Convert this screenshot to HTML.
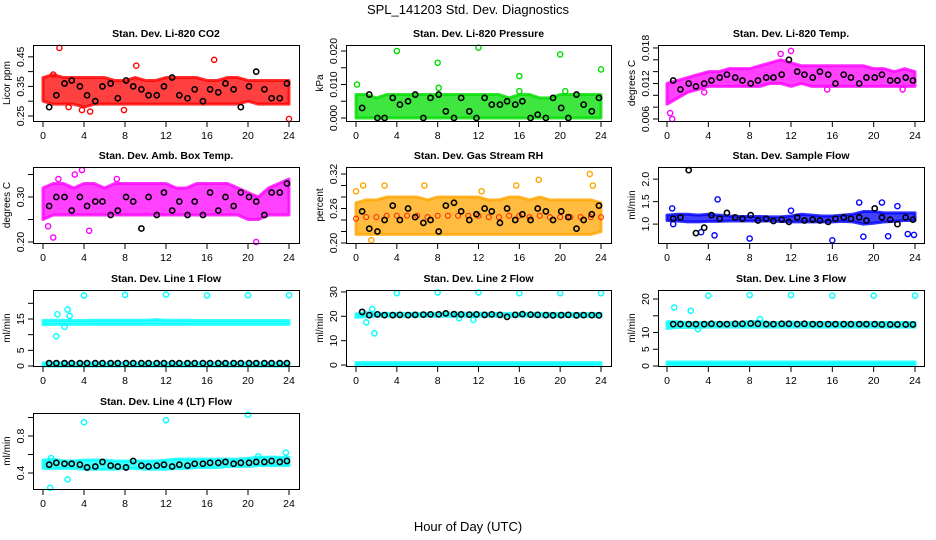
<!DOCTYPE html>
<html><head><meta charset="utf-8"><style>
body{margin:0;background:#fff}
svg{display:block;font-family:"Liberation Sans",sans-serif}
</style></head><body>
<svg id="c" width="936" height="540" xmlns="http://www.w3.org/2000/svg">
<text x="468" y="14" text-anchor="middle" font-size="13">SPL_141203  Std. Dev. Diagnostics</text>
<text x="468" y="531" text-anchor="middle" font-size="13">Hour of Day (UTC)</text>
</svg>
<script>
const hours=[0,1,2,3,4,5,6,7,8,9,10,11,12,13,14,15,16,17,18,19,20,21,22,23,24];
const blackHours=[0.6,1.3,2.1,2.8,3.6,4.3,5.1,5.8,6.6,7.3,8.1,8.8,9.6,10.3,11.1,11.8,12.6,13.3,14.1,14.8,15.6,16.3,17.1,17.8,18.6,19.3,20.1,20.8,21.6,22.3,23.1,23.8];

const co2Lo=[0.30,0.29,0.29,0.29,0.28,0.29,0.29,0.29,0.29,0.29,0.29,0.29,0.29,0.29,0.29,0.29,0.29,0.29,0.29,0.29,0.30,0.29,0.29,0.29,0.29];
const co2Hi=[0.38,0.39,0.38,0.38,0.38,0.38,0.38,0.37,0.37,0.38,0.37,0.37,0.38,0.38,0.38,0.38,0.37,0.37,0.38,0.38,0.37,0.37,0.37,0.37,0.37];
const co2OutX=[1.6,9.1,16.7,3.8,4.6,7.9,24,1.0,2.5];
const co2OutY=[0.48,0.42,0.44,0.27,0.265,0.27,0.24,0.39,0.28];
const co2Black=[0.28,0.32,0.36,0.37,0.35,0.32,0.30,0.35,0.36,0.31,0.37,0.35,0.34,0.32,0.32,0.35,0.38,0.32,0.31,0.34,0.30,0.34,0.33,0.36,0.34,0.28,0.35,0.40,0.34,0.31,0.31,0.36];

const presLo=[0,0,0,0,0,0,0,0,0,0,0,0,0,0,0,0,0,0,0,0,0,0,0,0,0];
const presHi=[0.007,0.007,0.006,0.007,0.007,0.007,0.007,0.007,0.007,0.007,0.007,0.007,0.007,0.007,0.007,0.006,0.007,0.007,0.006,0.006,0.007,0.007,0.007,0.007,0.007];
const presOutX=[0.1,4.0,8.0,8.1,12.0,16.0,16.0,20.0,24,20.5];
const presOutY=[0.010,0.020,0.0165,0.009,0.021,0.0125,0.008,0.019,0.0145,0.008];
const presBlack=[0.003,0.007,0,0,0.006,0.004,0.005,0.007,0,0.006,0.007,0.002,0,0.006,0.002,0,0.006,0.004,0.004,0.005,0.004,0.005,0,0.001,0,0.006,0.003,0,0.007,0.004,0.002,0.006];

const tempLo=[0.0085,0.0095,0.0105,0.011,0.0115,0.0115,0.0115,0.0115,0.0115,0.0115,0.012,0.012,0.0115,0.012,0.0115,0.0115,0.0115,0.0115,0.0115,0.0115,0.0115,0.0115,0.0115,0.0115,0.0115];
const tempHi=[0.012,0.0125,0.013,0.0135,0.014,0.014,0.0145,0.0145,0.0145,0.015,0.0155,0.016,0.0155,0.015,0.015,0.015,0.015,0.015,0.015,0.015,0.0145,0.0145,0.014,0.0145,0.014];
const tempOutX=[0.3,0.5,12,11,3.6,15.5,22.8];
const tempOutY=[0.007,0.006,0.0175,0.017,0.0105,0.011,0.011];
const tempBlack=[0.0125,0.0110,0.0120,0.0115,0.0120,0.0125,0.0130,0.0135,0.0130,0.0125,0.0120,0.0125,0.0130,0.0130,0.0135,0.0160,0.0140,0.0135,0.0130,0.0140,0.0135,0.0120,0.0135,0.0130,0.0120,0.0130,0.0130,0.0135,0.0125,0.0125,0.0130,0.0125];

const ambLo=[0.25,0.26,0.26,0.26,0.26,0.26,0.26,0.26,0.26,0.26,0.26,0.26,0.26,0.26,0.26,0.26,0.26,0.26,0.26,0.26,0.25,0.25,0.26,0.26,0.26];
const ambHi=[0.32,0.33,0.33,0.32,0.33,0.33,0.32,0.33,0.33,0.33,0.33,0.33,0.33,0.32,0.32,0.33,0.33,0.33,0.33,0.32,0.31,0.30,0.32,0.33,0.34];
const ambOutX=[1.0,3.1,3.8,20.8,4.5,7.2,0.5,1.5];
const ambOutY=[0.21,0.35,0.36,0.20,0.225,0.34,0.235,0.34];
const ambBlack=[0.28,0.30,0.30,0.27,0.30,0.28,0.29,0.29,0.26,0.27,0.30,0.29,0.23,0.30,0.26,0.31,0.27,0.29,0.26,0.29,0.26,0.31,0.27,0.30,0.28,0.31,0.30,0.29,0.26,0.31,0.31,0.33];

const rhLo=[0.215,0.215,0.215,0.215,0.215,0.215,0.215,0.215,0.215,0.215,0.215,0.215,0.215,0.215,0.215,0.215,0.215,0.215,0.215,0.215,0.215,0.215,0.215,0.215,0.22];
const rhHi=[0.27,0.275,0.275,0.28,0.28,0.28,0.28,0.275,0.28,0.28,0.28,0.28,0.28,0.275,0.275,0.28,0.28,0.275,0.28,0.275,0.275,0.275,0.275,0.275,0.27];
const rhOutX=[0.0,0.7,2.8,6.7,15.7,17.9,22.9,12.3,1.5,23.2];
const rhOutY=[0.29,0.30,0.30,0.30,0.30,0.31,0.32,0.29,0.205,0.30];
const rhBlack=[0.255,0.225,0.22,0.24,0.265,0.24,0.26,0.245,0.235,0.24,0.22,0.265,0.27,0.255,0.24,0.25,0.26,0.255,0.235,0.26,0.24,0.25,0.24,0.26,0.255,0.24,0.255,0.245,0.225,0.24,0.25,0.265];

const flowLo=[1.08,1.07,1.05,1.05,1.06,1.06,1.07,1.07,1.07,1.07,1.07,1.06,1.05,1.05,1.05,1.05,1.05,1.06,1.05,1.0,1.02,1.05,1.06,1.08,1.08];
const flowHi=[1.2,1.22,1.22,1.2,1.22,1.2,1.18,1.17,1.17,1.17,1.16,1.16,1.18,1.22,1.2,1.18,1.18,1.2,1.22,1.28,1.28,1.25,1.25,1.25,1.25];
const flowOutX=[0.5,4.9,4.6,8,16,18.6,20.8,21.4,23.9,23.3,19,22.3,12,0.6,3.3];
const flowOutY=[1.35,1.55,0.75,0.68,0.64,1.48,1.48,0.73,0.76,0.78,0.72,1.4,1.3,1.0,0.82];
const flowBlack=[1.12,1.15,2.2,0.8,0.92,1.2,1.12,1.25,1.15,1.12,1.2,1.08,1.12,1.07,1.10,1.05,1.15,1.08,1.1,1.08,1.05,1.12,1.15,1.12,1.15,1.08,1.35,1.15,1.1,1.0,1.15,1.1];

const l1Lo=[13.2,13.3,13.3,13.3,13.3,13.3,13.3,13.3,13.3,13.3,13.3,13.3,13.3,13.3,13.3,13.3,13.3,13.3,13.3,13.3,13.3,13.3,13.3,13.3,13.3];
const l1Hi=[14.5,14.6,14.6,14.5,14.5,14.6,14.6,14.6,14.6,14.6,14.6,14.8,14.6,14.6,14.6,14.5,14.5,14.5,14.5,14.5,14.5,14.5,14.5,14.5,14.5];
const l1OutX=[1.3,1.4,2.4,2.1,2.6,4,8,12,16,20,24];
const l1OutY=[9.5,16.5,18,12.5,16,22.5,22.7,22.8,22.5,22.6,22.6];
const l1Black=[0.9,0.9,0.9,0.9,0.9,0.9,0.9,0.9,0.9,0.9,0.9,0.9,0.9,0.9,0.9,0.9,0.9,0.9,0.9,0.9,0.9,0.9,0.9,0.9,0.9,0.9,0.9,0.9,0.9,0.9,0.9,0.9];

const l2Lo=[19.6,19.8,20,20,20,20,20,20,20,20,20,20,20,20,20,20,20,20,20,20,19.9,19.9,19.9,19.9,19.9];
const l2Hi=[21,21.5,21.2,21.2,21.2,21.2,21.2,21.2,21.2,21.3,21.3,21.3,21.3,21.2,21.2,21.2,21.2,21.2,21.2,21.2,21.1,21.1,21.1,21.1,21.1];
const l2OutX=[1.0,1.8,1.6,4,8,12,16,20,24,11.5,10.1];
const l2OutY=[17.5,13,23,29.5,29.8,29.8,29.5,29.5,29.5,18.5,19.2];
const l2Black=[21.8,20.5,20.8,20.5,20.5,20.6,20.5,20.6,20.7,20.8,20.8,21.2,20.9,20.8,20.7,20.8,20.6,20.8,20.6,19.8,20.6,20.9,20.7,20.6,20.5,20.4,20.5,20.6,20.4,20.5,20.5,20.4];

const l3Lo=[11.2,11.5,11.5,11.5,11.6,11.6,11.6,11.6,11.6,11.6,11.6,11.6,11.6,11.6,11.6,11.6,11.6,11.6,11.6,11.6,11.6,11.6,11.6,11.6,11.6];
const l3Hi=[13.2,13.2,13,13,13,13,13,13,13.2,13.3,13,13,13.1,13,13,13,13,13,13,13,13,13,13,13,13];
const l3OutX=[0.7,2.3,4,8,12,16,20,24,9,3.0];
const l3OutY=[17.5,16.5,21,21.2,21.2,21,21,21,14,11];
const l3Black=[12.5,12.5,12.5,12.5,12.5,12.6,12.5,12.5,12.6,12.6,12.7,12.6,12.5,12.5,12.6,12.6,12.5,12.6,12.5,12.5,12.5,12.5,12.5,12.5,12.5,12.5,12.5,12.4,12.4,12.4,12.4,12.4];

const l4Lo=[0.45,0.45,0.45,0.45,0.44,0.44,0.44,0.44,0.45,0.45,0.44,0.44,0.44,0.45,0.45,0.46,0.46,0.46,0.47,0.47,0.47,0.48,0.48,0.48,0.48];
const l4Hi=[0.54,0.55,0.53,0.53,0.54,0.54,0.54,0.53,0.53,0.53,0.53,0.53,0.54,0.55,0.55,0.55,0.55,0.55,0.55,0.55,0.56,0.57,0.57,0.57,0.57];
const l4OutX=[4,12,20,0.7,2.4,23.7,21,0.8];
const l4OutY=[0.95,0.97,1.03,0.24,0.33,0.62,0.58,0.56];
const l4Black=[0.49,0.51,0.50,0.50,0.49,0.46,0.47,0.52,0.48,0.47,0.46,0.53,0.48,0.47,0.48,0.49,0.47,0.49,0.48,0.50,0.50,0.51,0.51,0.52,0.50,0.51,0.51,0.52,0.52,0.53,0.52,0.53];

const lowBand=[1.0,1.0,1.0,1.0,1.0,1.0,1.0,1.0,1.0,1.0,1.0,1.0,1.0,1.0,1.0,1.0,1.0,1.0,1.0,1.0,1.0,1.0,1.0,1.0,1.0];
const zeroBand=[0,0,0,0,0,0,0,0,0,0,0,0,0,0,0,0,0,0,0,0,0,0,0,0,0];
const lowBand3=[0.3,0.3,0.3,0.3,0.3,0.3,0.3,0.3,0.3,0.3,0.3,0.3,0.3,0.3,0.3,0.3,0.3,0.3,0.3,0.3,0.3,0.3,0.3,0.3,0.3];
const hiBand3=[1.2,1.2,1.2,1.2,1.2,1.2,1.2,1.2,1.2,1.2,1.2,1.2,1.2,1.2,1.2,1.2,1.2,1.2,1.2,1.2,1.2,1.2,1.2,1.2,1.2];

const cols=[{l:33,r:299,x0:43,x24:289},{l:346,r:611,x0:356,x24:601},{l:658,r:924,x0:667,x24:915}];
const rows=[{t:45,b:121},{t:167,b:243},{t:290,b:366},{t:413,b:489}];
const panels=[
 {name:'co2',title:'Stan. Dev. Li-820 CO2',yl:'Licor ppm',c:0,r:0,ymin:0.233,ymax:0.49,ticks:[0.25,0.30,0.35,0.40,0.45],labs:{0.25:'0.25',0.35:'0.35',0.45:'0.45'},col:'#ff0000',bands:[[co2Lo,co2Hi]],ox:co2OutX,oy:co2OutY,bk:co2Black},
 {name:'pressure',title:'Stan. Dev. Li-820 Pressure',yl:'kPa',c:1,r:0,ymin:-0.0009,ymax:0.0218,ticks:[0,0.005,0.01,0.015,0.02],labs:{0:'0.000',0.01:'0.010',0.02:'0.020'},col:'#00dd00',bands:[[presLo,presHi]],ox:presOutX,oy:presOutY,bk:presBlack},
 {name:'temp',title:'Stan. Dev. Li-820 Temp.',yl:'degrees C',c:2,r:0,ymin:0.00566,ymax:0.0185,ticks:[0.006,0.008,0.010,0.012,0.014,0.016,0.018],labs:{0.006:'0.006',0.012:'0.012',0.018:'0.018'},col:'#ff00ff',bands:[[tempLo,tempHi]],ox:tempOutX,oy:tempOutY,bk:tempBlack},
 {name:'amb-box',title:'Stan. Dev. Amb. Box Temp.',yl:'degrees C',c:0,r:1,ymin:0.1978,ymax:0.3667,ticks:[0.20,0.25,0.30,0.35],labs:{0.2:'0.20',0.3:'0.30'},col:'#ff00ff',bands:[[ambLo,ambHi]],ox:ambOutX,oy:ambOutY,bk:ambBlack},
 {name:'gas-rh',title:'Stan. Dev. Gas Stream RH',yl:'percent',c:1,r:1,ymin:0.20,ymax:0.3322,ticks:[0.20,0.22,0.24,0.26,0.28,0.30,0.32],labs:{0.2:'0.20',0.26:'0.26',0.32:'0.32'},col:'#ffa500',dot:'#ff2000',bands:[[rhLo,rhHi]],ox:rhOutX,oy:rhOutY,bk:rhBlack},
 {name:'sample-flow',title:'Stan. Dev. Sample Flow',yl:'ml/min',c:2,r:1,ymin:0.58,ymax:2.27,ticks:[1.0,1.5,2.0],labs:{1:'1.0',1.5:'1.5',2:'2.0'},col:'#0000ff',bands:[[flowLo,flowHi]],ox:flowOutX,oy:flowOutY,bk:flowBlack},
 {name:'line1-flow',title:'Stan. Dev. Line 1 Flow',yl:'ml/min',c:0,r:2,ymin:0,ymax:24.25,ticks:[0,5,10,15,20],labs:{0:'0',5:'5',15:'15'},col:'#00ffff',bands:[[l1Lo,l1Hi],[zeroBand,lowBand]],ox:l1OutX,oy:l1OutY,bk:l1Black},
 {name:'line2-flow',title:'Stan. Dev. Line 2 Flow',yl:'ml/min',c:1,r:2,ymin:-0.4,ymax:30.8,ticks:[0,10,20,30],labs:{0:'0',10:'10',20:'20',30:'30'},col:'#00ffff',bands:[[l2Lo,l2Hi],[zeroBand,lowBand]],ox:l2OutX,oy:l2OutY,bk:l2Black},
 {name:'line3-flow',title:'Stan. Dev. Line 3 Flow',yl:'ml/min',c:2,r:2,ymin:0,ymax:22.7,ticks:[0,5,10,15,20],labs:{0:'0',5:'5',10:'10',20:'20'},col:'#00ffff',bands:[[l3Lo,l3Hi],[lowBand3,hiBand3]],ox:l3OutX,oy:l3OutY,bk:l3Black},
 {name:'line4-flow',title:'Stan. Dev. Line 4 (LT) Flow',yl:'ml/min',c:0,r:3,ymin:0.227,ymax:1.049,ticks:[0.4,0.6,0.8,1.0],labs:{0.4:'0.4',0.8:'0.8'},col:'#00ffff',bands:[[l4Lo,l4Hi]],ox:l4OutX,oy:l4OutY,bk:l4Black}
];
const NS='http://www.w3.org/2000/svg';
const svg=document.getElementById('c');
function mk(tag,attrs,parent){const e=document.createElementNS(NS,tag);for(const k in attrs)e.setAttribute(k,attrs[k]);(parent||svg).appendChild(e);return e;}
panels.forEach(p=>{
 const C=cols[p.c],R=rows[p.r];
 const g=mk('g',{});
 
 
 const xs=h=>C.x0+(C.x24-C.x0)*h/24;
 const ys=v=>R.b-(v-p.ymin)/(p.ymax-p.ymin)*(R.b-R.t);
 const cx=(C.l+C.r)/2;
 const t=mk('text',{x:cx,y:R.t-8,'text-anchor':'middle','font-size':'10.5','font-weight':'bold'},g);t.textContent=p.title;
 
 
 p.bands.forEach(b=>{
  let pts=hours.map((h,i)=>xs(h)+','+ys(b[1][i]));
  pts=pts.concat(hours.slice().reverse().map((h,j)=>{const i=hours.length-1-j;return xs(h)+','+ys(b[0][i]);}));
  const pg=mk('polygon',{points:pts.join(' '),fill:p.col,stroke:p.col,'stroke-width':3,'stroke-linejoin':'round','fill-opacity':0.75,'stroke-opacity':0.8},g);
  
  
  if(p.dot){hours.forEach((h,i)=>{const d=mk('circle',{cx:xs(h),cy:ys((b[0][i]+b[1][i])/2),r:2.5,fill:'none',stroke:p.dot,'stroke-width':1},g);});}
 });
 p.ox.forEach((x,i)=>{
  const c=mk('circle',{cx:xs(x),cy:ys(p.oy[i]),r:2.6,fill:'none',stroke:p.col,'stroke-width':1.4},g);
  
  
 });
 blackHours.forEach((x,i)=>{
  const c=mk('circle',{cx:xs(x),cy:ys(p.bk[i]),r:2.6,fill:'none',stroke:'#000','stroke-width':1.6},g);
  
  
 });
 const box=mk('rect',{x:C.l+0.5,y:R.t+0.5,width:C.r-C.l,height:R.b-R.t,fill:'none',stroke:'#000','stroke-width':1},g);
 
 
 const xa=mk('g',{},g);
 
 
 [0,4,8,12,16,20,24].forEach(h=>{
  mk('line',{x1:xs(h),x2:xs(h),y1:R.b+1,y2:R.b+6,stroke:'#000'},xa);
  const tl=mk('text',{x:xs(h),y:R.b+18,'text-anchor':'middle','font-size':'10.5'},xa);tl.textContent=h;
 });
 const ya=mk('g',{},g);
 
 
 p.ticks.forEach(v=>{
  mk('line',{x1:C.l-5,x2:C.l,y1:ys(v),y2:ys(v),stroke:'#000'},ya);
  if(p.labs[v]!==undefined){const tl=mk('text',{x:0,y:0,'text-anchor':'middle','font-size':'10.5',transform:`translate(${C.l-9},${ys(v)}) rotate(-90)`},ya);tl.textContent=p.labs[v];}
 });
 const yl=mk('text',{x:0,y:0,'text-anchor':'middle','font-size':'10',transform:`translate(${C.l-23},${(R.t+R.b)/2}) rotate(-90)`},g);yl.textContent=p.yl;
 
 
});
</script>
</body></html>
